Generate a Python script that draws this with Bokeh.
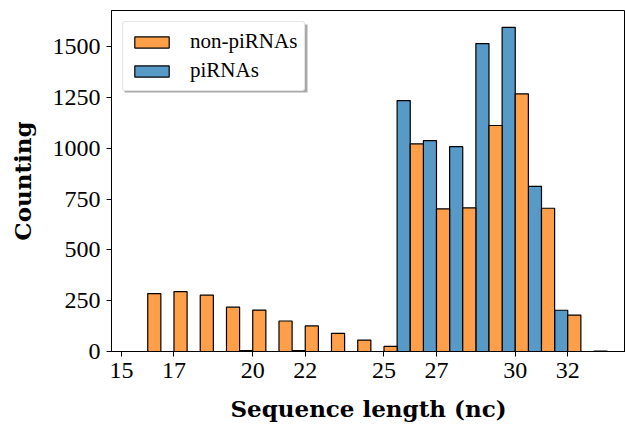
from bokeh.plotting import figure
from bokeh.models import Range1d, FixedTicker, Legend, LegendItem, ColumnDataSource, BoxAnnotation
from bokeh.transform import dodge
from bokeh.embed import file_html
from bokeh.resources import INLINE

lengths = list(range(16, 34))
pirnas = [0, 0, 0, 0, 5, 0, 4, 0, 0, 0, 1235, 1038, 1008, 1515, 1595, 813, 203, 0]
non_pirnas = [285, 295, 277, 218, 204, 150, 126, 89, 56, 25, 1022, 702, 707, 1112, 1268, 705, 179, 2]
x_ticks = [15, 17, 20, 22, 25, 27, 30, 32]
y_ticks = [0, 250, 500, 750, 1000, 1250, 1500]

BLUE = "#5799c7"
ORANGE = "#ff9f4a"
SERIF = "Liberation Serif"
BOLD = "DejaVu Serif"

src = ColumnDataSource(dict(length=lengths, pirnas=pirnas, non=non_pirnas))

p = figure(width=625, height=430, output_backend="svg", toolbar_location=None,
           x_range=Range1d(14.62, 34.2), y_range=Range1d(0, 1678),
           min_border_left=111, min_border_right=0, min_border_top=10, min_border_bottom=79)

r_pi = p.vbar(x=dodge("length", -0.25, range=p.x_range), top="pirnas", width=0.5, source=src,
              fill_color=BLUE, line_color="black", line_width=1.2)
r_non = p.vbar(x=dodge("length", 0.25, range=p.x_range), top="non", width=0.5, source=src,
               fill_color=ORANGE, line_color="black", line_width=1.2)

p.xgrid.visible = False
p.ygrid.visible = False
p.outline_line_color = "black"
p.outline_line_width = 1

for ax in (p.xaxis[0], p.yaxis[0]):
    ax.axis_line_color = "black"
    ax.major_tick_line_color = "black"
    ax.major_tick_out = 5
    ax.major_tick_in = 0
    ax.minor_tick_line_color = None
    ax.major_label_text_font = SERIF
    ax.major_label_text_font_size = "24px"
    ax.major_label_text_color = "black"
    ax.major_label_standoff = 6
    ax.axis_label_text_font = BOLD
    ax.axis_label_text_font_style = "bold"
    ax.axis_label_text_font_size = "23px"
    ax.axis_label_text_color = "black"

p.xaxis.ticker = FixedTicker(ticks=x_ticks)
p.yaxis.ticker = FixedTicker(ticks=y_ticks)
p.xaxis.axis_label = "Sequence length (nc)"
p.yaxis.axis_label = "Counting"
p.xaxis.axis_label_standoff = 14
p.yaxis.axis_label_standoff = 14

# legend drop shadow (screen pixels, measured from frame bottom-left)
shadow = BoxAnnotation(left=13, right=196, top=327, bottom=259,
                       left_units="screen", right_units="screen",
                       top_units="screen", bottom_units="screen",
                       fill_color="#aaaaaa", fill_alpha=1.0, line_color=None)
p.add_layout(shadow)

legend = Legend(items=[LegendItem(label="non-piRNAs", renderers=[r_non]),
                       LegendItem(label="piRNAs", renderers=[r_pi])],
                location="top_left", margin=11, padding=7, spacing=4,
                glyph_width=43, glyph_height=14, label_height=14, label_standoff=17,
                label_text_font=SERIF, label_text_font_size="21px",
                label_text_color="black",
                border_line_color="#cccccc", border_line_width=1.5,
                background_fill_color="white", background_fill_alpha=1.0)
if "border_radius" in Legend.properties():
    legend.border_radius = 3
p.add_layout(legend)

open("out.html", "w").write(file_html(p, INLINE))
